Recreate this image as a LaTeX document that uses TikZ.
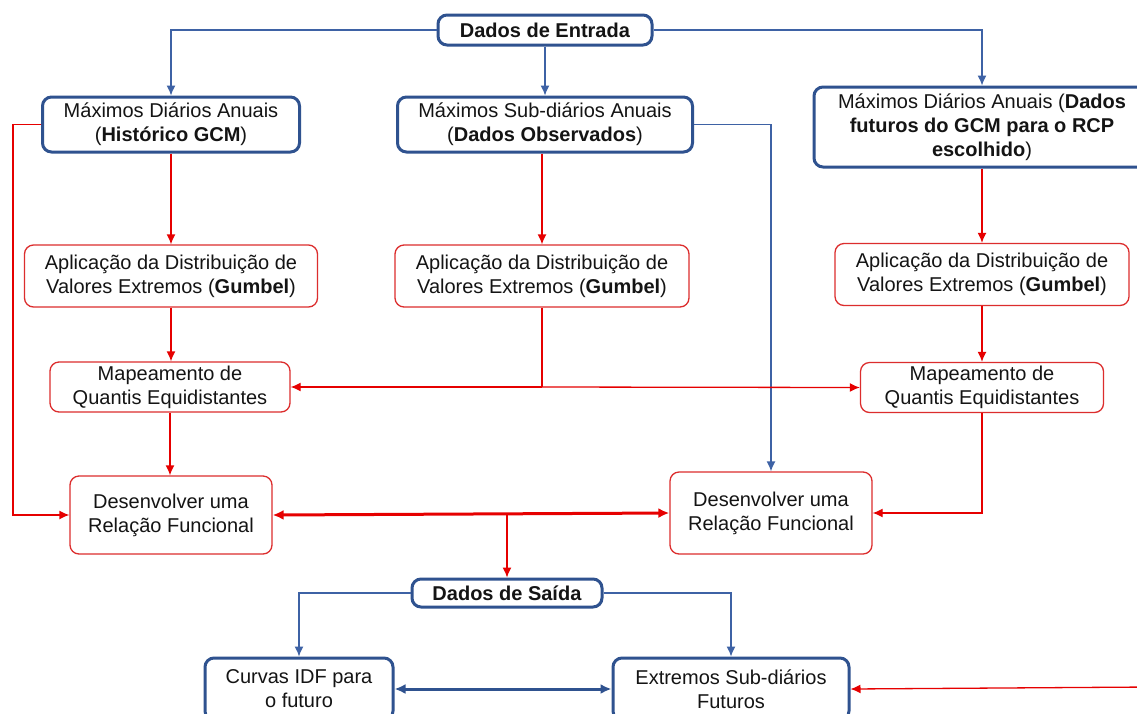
\documentclass[tikz,border=0pt]{standalone}
\usepackage{fontspec}
\setmainfont{Liberation Sans}
\usetikzlibrary{arrows.meta}
\definecolor{bborder}{RGB}{47,82,143}
\definecolor{bline}{RGB}{62,98,165}
\definecolor{rborder}{RGB}{220,45,45}
\definecolor{rline}{RGB}{230,0,0}
\definecolor{txt}{RGB}{20,20,20}
\tikzset{
  x=1pt, y=-1pt,
  box/.style={rectangle, rounded corners=9pt, align=center, inner sep=0pt,
    text=txt, font=\fontsize{20}{24}\selectfont, fill=white},
  bluebox/.style={box, draw=bborder, line width=3pt},
  redbox/.style={box, draw=rborder, line width=1.3pt},
  bconn/.style={draw=bline, line width=1.3pt, -{Latex[length=10pt,width=9pt]}},
  rconn/.style={draw=rline, line width=1.3pt, -{Latex[length=10pt,width=9pt]}},
  rthick/.style={draw=rline, line width=3pt, {Latex[length=11pt,width=10pt]}-{Latex[length=11pt,width=10pt]}},
  bthick/.style={draw=bborder, line width=3pt, {Latex[length=11pt,width=10pt]}-{Latex[length=11pt,width=10pt]}},
}
\begin{document}
\begin{tikzpicture}
\useasboundingbox[fill=white] (0,0) rectangle (1137,713);
% nodes
\node[bluebox, minimum width=214pt, minimum height=30pt] (entrada) at (545,30) {\textbf{Dados de Entrada}};
\node[bluebox, minimum width=257pt, minimum height=55pt] (m1) at (171,124.5) {Máximos Diários Anuais\\(\textbf{Histórico GCM})};
\node[bluebox, minimum width=295pt, minimum height=55pt] (m2) at (545,124.5) {Máximos Sub-diários Anuais\\(\textbf{Dados Observados})};
\node[bluebox, minimum width=336pt, minimum height=80pt] (m3) at (982,127) {Máximos Diários Anuais (\textbf{Dados}\\\textbf{futuros do GCM para o RCP}\\\textbf{escolhido})};
\node[redbox, minimum width=293pt, minimum height=62pt] (a1) at (171,276) {Aplicação da Distribuição de\\Valores Extremos (\textbf{Gumbel})};
\node[redbox, minimum width=294pt, minimum height=62pt] (a2) at (542,276) {Aplicação da Distribuição de\\Valores Extremos (\textbf{Gumbel})};
\node[redbox, minimum width=294pt, minimum height=62pt] (a3) at (982,274.5) {Aplicação da Distribuição de\\Valores Extremos (\textbf{Gumbel})};
\node[redbox, minimum width=240pt, minimum height=50pt] (p1) at (170,387) {Mapeamento de\\Quantis Equidistantes};
\node[redbox, minimum width=243pt, minimum height=50pt] (p2) at (982,387.5) {Mapeamento de\\Quantis Equidistantes};
\node[redbox, minimum width=202pt, minimum height=78pt] (d1) at (171,515) {Desenvolver uma\\Relação Funcional};
\node[redbox, minimum width=202pt, minimum height=82pt] (d2) at (771,513) {Desenvolver uma\\Relação Funcional};
\node[bluebox, minimum width=190pt, minimum height=28pt] (saida) at (507,593) {\textbf{Dados de Saída}};
\node[bluebox, minimum width=188pt, minimum height=62pt] (c1) at (299,689) {Curvas IDF para\\o futuro};
\node[bluebox, minimum width=236pt, minimum height=62pt] (e1) at (731,689) {Extremos Sub-diários\\Futuros};
% helper coordinates
\coordinate (lft) at (13,0);
\coordinate (split) at (542,387);
\coordinate (join) at (507,514);
\coordinate (rin) at (1150,687);
% blue connectors
\draw[bconn] (entrada.west) -| (m1.north);
\draw[bconn] (entrada.east) -| (m3.north);
\draw[bconn] (entrada.south) -- (m2.north);
\draw[bconn] (m2.east) -| (d2.north);
\draw[bconn] (saida.west) -| (c1.north);
\draw[bconn] (saida.east) -| (e1.north);
% red connectors
\draw[rconn] (m1.south) -- (a1.north);
\draw[rconn] (m2.south -| a2.north) -- (a2.north);
\draw[rconn] (m3.south) -- (a3.north);
\draw[rconn] (a1.south) -- (p1.north -| a1.south);
\draw[rconn] (a3.south) -- (p2.north -| a3.south);
\draw[draw=rline, line width=1.3pt] (a2.south) -- (split);
\draw[rconn] (split) -- (p1.east);
\draw[rconn] (split) -- (p2.west);
\draw[rconn] (p1.south) -- (d1.north -| p1.south);
\draw[rconn] (p2.south) |- (d2.east);
\draw[rconn] (m1.west) -- (m1.west -| lft) |- (d1.west);
\draw[rthick] (d1.east) -- (d2.west);
\draw[rconn] (join) -- (saida.north);
\draw[rconn] (rin) -- (e1.east);
\draw[bthick] (c1.east) -- (e1.west);
\end{tikzpicture}
\end{document}
